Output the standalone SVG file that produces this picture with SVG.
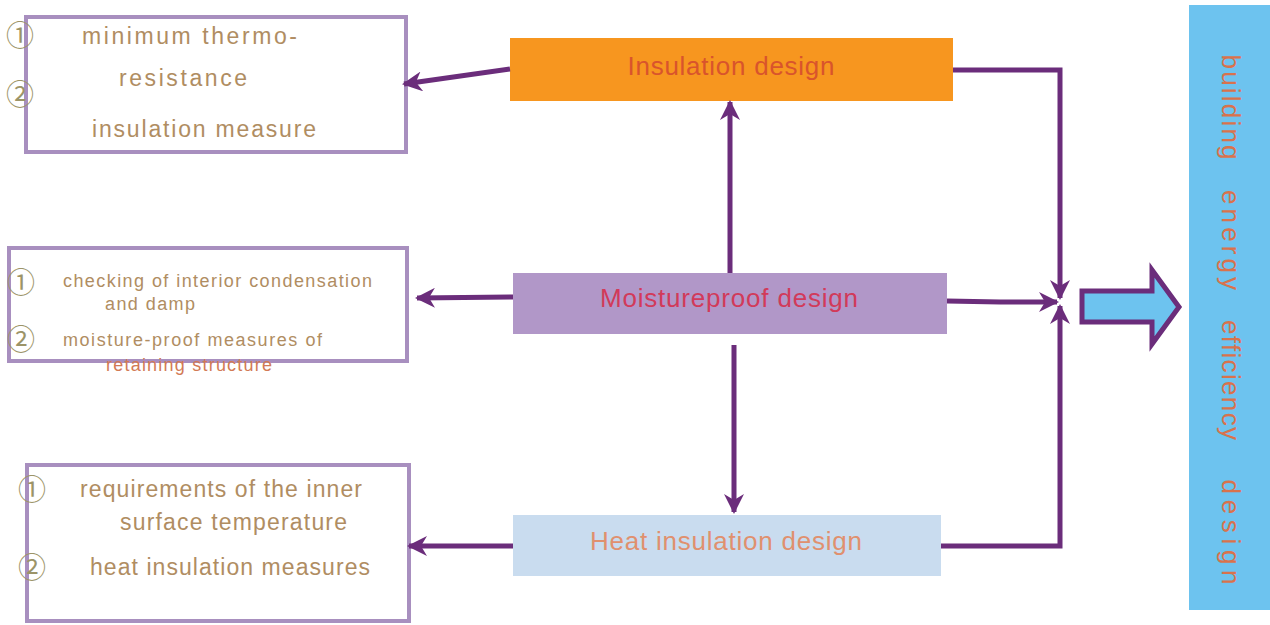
<svg xmlns="http://www.w3.org/2000/svg" width="1270" height="625" viewBox="0 0 1270 625">
<style>
.frame{fill:#ffffff;stroke:#a88fbf;stroke-width:4}
.con{fill:none;stroke:#6b2d7b;stroke-width:5}
.num{font-family:"Noto Sans CJK SC","DejaVu Sans",sans-serif;fill:#9c9468;font-size:28px}
.lt{font-family:"Liberation Sans",Arial,sans-serif;fill:#b08d62;font-size:23px}
.ls{font-family:"Liberation Sans",Arial,sans-serif;fill:#b08d62;font-size:18px}
.ctr{font-family:"Liberation Sans",Arial,sans-serif;font-size:26px;text-anchor:middle}
.side{font-family:"Liberation Sans",Arial,sans-serif;font-size:26px;fill:#d9724c;text-anchor:middle}
</style>
<defs>
<marker id="ah" viewBox="0 0 10 10" refX="9" refY="5" markerWidth="4" markerHeight="4" orient="auto" markerUnits="strokeWidth">
<path d="M0,0 L10,5 L0,10 L3,5 z" fill="#6b2d7b"/>
</marker>
</defs>
<rect width="1270" height="625" fill="#ffffff"/>

<g id="box-insulation-detail">
<rect class="frame" x="26" y="17" width="380" height="135"/>
<text class="num" x="6" y="46">①</text>
<text class="lt" x="82" y="44" textLength="215" lengthAdjust="spacing">minimum thermo-</text>
<text class="lt" x="119" y="86" textLength="128" lengthAdjust="spacing">resistance</text>
<text class="num" x="6" y="105">②</text>
<text class="lt" x="92" y="137" textLength="224" lengthAdjust="spacing">insulation measure</text>
</g>

<g id="box-moisture-detail">
<rect class="frame" x="9" y="248" width="398" height="113"/>
<text class="num" x="7" y="293">①</text>
<text class="ls" x="63" y="287" textLength="309" lengthAdjust="spacing">checking of interior condensation</text>
<text class="ls" x="105" y="310" textLength="90" lengthAdjust="spacing">and damp</text>
<text class="num" x="7" y="350">②</text>
<text class="ls" x="63" y="346" textLength="259" lengthAdjust="spacing">moisture-proof measures of</text>
<text class="ls" x="106" y="371" textLength="166" lengthAdjust="spacing" style="fill:#d27a55">retaining structure</text>
</g>

<g id="box-heat-detail">
<rect class="frame" x="27" y="465" width="382" height="156"/>
<text class="num" x="18" y="500">①</text>
<text class="lt" x="80" y="497" textLength="282" lengthAdjust="spacing">requirements of the inner</text>
<text class="lt" x="120" y="530" textLength="227" lengthAdjust="spacing">surface temperature</text>
<text class="num" x="18" y="578">②</text>
<text class="lt" x="90" y="575" textLength="280" lengthAdjust="spacing">heat insulation measures</text>
</g>

<g id="node-insulation">
<rect x="510" y="38" width="443" height="63" fill="#f7961f"/>
<text class="ctr" x="731" y="75" fill="#d9542c" textLength="207" lengthAdjust="spacing">Insulation design</text>
</g>

<g id="node-moisture">
<rect x="513" y="273" width="434" height="61" fill="#b197c8"/>
<text class="ctr" x="729" y="307" fill="#d23a5a" textLength="258" lengthAdjust="spacing">Moistureproof design</text>
</g>

<g id="node-heat">
<rect x="513" y="515" width="428" height="61" fill="#c9dcef"/>
<text class="ctr" x="726" y="550" fill="#e0906e" textLength="272" lengthAdjust="spacing">Heat insulation design</text>
</g>

<g id="node-result">
<rect x="1189" y="5" width="81" height="605" fill="#6dc3ef"/>
<text class="side" transform="translate(1222,107) rotate(90)" textLength="105" lengthAdjust="spacing">building</text>
<text class="side" transform="translate(1222,240) rotate(90)" textLength="100" lengthAdjust="spacing">energy</text>
<text class="side" transform="translate(1222,380) rotate(90)" textLength="120" lengthAdjust="spacing">efficiency</text>
<text class="side" transform="translate(1222,532) rotate(90)" textLength="105" lengthAdjust="spacing">design</text>
</g>

<g id="connectors">
<line class="con" x1="510" y1="69" x2="404" y2="84" marker-end="url(#ah)"/>
<line class="con" x1="513" y1="297" x2="417" y2="298" marker-end="url(#ah)"/>
<line class="con" x1="513" y1="546" x2="409" y2="546" marker-end="url(#ah)"/>
<line class="con" x1="730" y1="273" x2="730" y2="102" marker-end="url(#ah)"/>
<line class="con" x1="734" y1="345" x2="734" y2="512" marker-end="url(#ah)"/>
<polyline class="con" points="953,70 1060,70 1060,298" marker-end="url(#ah)"/>
<polyline class="con" points="947,301 1000,302 1057,302" marker-end="url(#ah)"/>
<polyline class="con" points="941,546 1060,546 1060,306" marker-end="url(#ah)"/>
<polygon points="1082,291 1152,291 1152,270 1179,307 1152,344 1152,322 1082,322" fill="#6dc3ef" stroke="#6b2d7b" stroke-width="5" stroke-linejoin="miter"/>
</g>
</svg>
